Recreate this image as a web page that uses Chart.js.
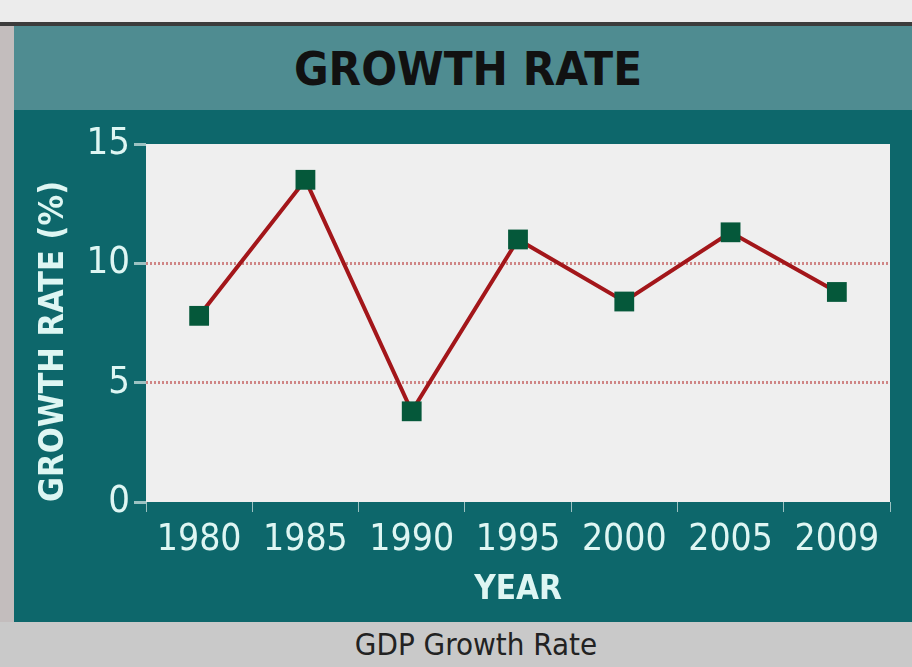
<!DOCTYPE html>
<html>
<head>
<meta charset="utf-8">
<script src="https://cdn.jsdelivr.net/npm/chart.js@4"></script>
<style>
  html, body { margin:0; padding:0; }
  body { width:912px; height:667px; position:relative; overflow:hidden; background:#ececec;
         font-family:'DejaVu Sans Condensed',sans-serif; }
  #topline { position:absolute; left:0; top:22px; width:912px; height:4px; background:#3c3c3c; }
  #strip { position:absolute; left:0; top:26px; width:14px; height:596px; background:#c3bdbd; }
  #titleband { position:absolute; left:14px; top:26px; width:898px; height:84px; background:#4f8c91;
               color:#111; font-weight:bold; font-size:47px; text-align:center; line-height:86px; padding-left:10px; box-sizing:border-box; }
  #panel { position:absolute; left:14px; top:110px; width:898px; height:512px; background:#0d676b; }
  #caption { position:absolute; left:0; top:622px; width:912px; height:45px; background:#c9c9c9;
             color:#222; font-size:31px; text-align:center; line-height:45px; padding-left:40px; box-sizing:border-box; }
</style>
</head>
<body>
<div id="topline"></div>
<div id="strip"></div>
<div id="titleband">GROWTH RATE</div>
<div id="panel"><canvas id="c" width="898" height="512"></canvas></div>
<div id="caption">GDP Growth Rate</div>
<script>
// ─── data ───
const years = ['1980','1985','1990','1995','2000','2005','2009'];
const growthRate = [7.8, 13.5, 3.8, 11.0, 8.4, 11.3, 8.8];
const yTicks = [0, 5, 10, 15];

const FONT = "'DejaVu Sans Condensed',sans-serif";
const LABEL = '#def6f3';

// light plot background behind the chart area
const plotBg = {
  id: 'plotBg',
  beforeDraw(chart) {
    const {ctx, chartArea: a} = chart;
    ctx.save();
    ctx.fillStyle = '#efefef';
    ctx.fillRect(a.left, a.top, a.right - a.left, a.bottom - a.top);
    ctx.restore();
  }
};

new Chart(document.getElementById('c').getContext('2d'), {
  type: 'line',
  data: {
    labels: years,
    datasets: [{
      label: 'Growth rate',
      data: growthRate,
      borderColor: '#a3161a',
      borderWidth: 4,
      tension: 0,
      pointStyle: 'rect',
      pointRadius: 14,
      pointBackgroundColor: '#05583a',
      pointBorderColor: '#05583a',
      pointBorderWidth: 0
    }]
  },
  options: {
    responsive: false,
    animation: false,
    layout: { padding: { top: 34, right: 22, bottom: 0, left: 0 } },
    plugins: { legend: { display: false }, tooltip: { enabled: false } },
    scales: {
      x: {
        offset: true,
        afterFit: s => { s.height = 120; },
        grid: { offset: true, drawOnChartArea: false, drawTicks: true, tickLength: 10, tickColor: '#9cc2c2', lineWidth: 1 },
        border: { display: false },
        ticks: { color: LABEL, font: { family: FONT, size: 37 }, padding: 6, maxRotation: 0 },
        title: { display: true, text: 'YEAR', color: LABEL, font: { family: FONT, size: 33, weight: 'bold' }, padding: { top: 0, bottom: 12 } }
      },
      y: {
        min: 0, max: 15,
        afterFit: s => { s.width = 132; },
        afterBuildTicks: s => { s.ticks = yTicks.map(v => ({ value: v })); },
        grid: {
          drawTicks: true, tickLength: 12, tickColor: '#9cc2c2',
          color: c => (c.tick && (c.tick.value === 5 || c.tick.value === 10)) ? '#cf8585' : 'rgba(0,0,0,0)',
          lineWidth: 3
        },
        border: { display: false, dash: [2, 2] },
        ticks: { color: LABEL, font: { family: FONT, size: 38 }, padding: 4 },
        title: { display: true, text: 'GROWTH RATE (%)', align: 'start', color: LABEL, font: { family: FONT, size: 34, weight: 'bold' }, padding: { top: 20, bottom: 0 } }
      }
    }
  },
  plugins: [plotBg]
});
</script>
</body>
</html>
